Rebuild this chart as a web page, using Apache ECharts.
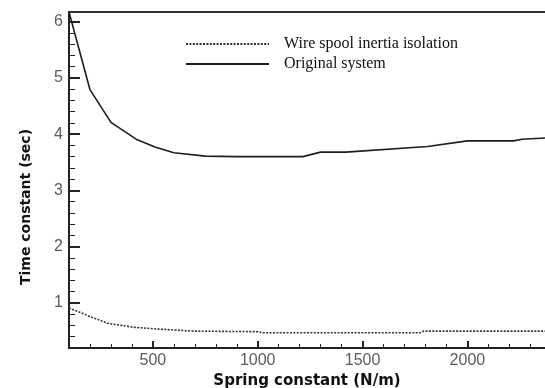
<!DOCTYPE html>
<html>
<head>
<meta charset="utf-8">
<script src="https://cdn.jsdelivr.net/npm/echarts@6/dist/echarts.min.js"></script>
<style>
  html, body { margin: 0; padding: 0; background: #fff; }
  #chart { width: 545px; height: 388px; }
</style>
</head>
<body>
<div id="chart"></div>
<script>
// Data
const origX = [100, 200, 300, 420, 510, 600, 750, 900, 1215, 1300, 1420, 1810, 2000, 2220, 2260, 2370];
const origY = [6.17, 4.79, 4.21, 3.91, 3.77, 3.67, 3.61, 3.60, 3.60, 3.68, 3.68, 3.78, 3.88, 3.88, 3.91, 3.93];
const isoX = [100, 207, 283, 404, 510, 693, 1000, 1025, 1775, 1790, 2370];
const isoY = [0.91, 0.75, 0.64, 0.57, 0.54, 0.50, 0.49, 0.47, 0.47, 0.50, 0.50];

// Tick labels
const xMajor = [500, 1000, 1500, 2000];
const xMinor = [200, 300, 400, 600, 700, 800, 900, 1100, 1200, 1300, 1400, 1600, 1700, 1800, 1900, 2100, 2200, 2300];
const yMajor = [1, 2, 3, 4, 5, 6];
const yMinor = [0.4, 0.6, 0.8, 1.2, 1.4, 1.6, 1.8, 2.2, 2.4, 2.6, 2.8, 3.2, 3.4, 3.6, 3.8,
  4.2, 4.4, 4.6, 4.8, 5.2, 5.4, 5.6, 5.8];

const seriesNames = ['Wire spool inertia isolation', 'Original system'];

const xMin = 100, xMax = 2370;
const yMin = 0.2, yMax = 6.17;

const axisColor = '#222';
const labelColor = '#5c5c5c';
const lineColor = '#1e1e1e';

const chart = echarts.init(document.getElementById('chart'), null, {renderer: 'canvas'});

const option = {
  animation: false,
  backgroundColor: '#fff',
  grid: {
    left: 69,
    right: 0,
    top: 12,
    bottom: 40,
    outerBoundsMode: 'none'
  },
  legend: {
    show: true,
    orient: 'vertical',
    left: 180,
    top: 31,
    itemWidth: 83,
    itemHeight: 14,
    itemGap: 4,
    data: seriesNames,
    itemStyle: {opacity: 0},
    textStyle: {
      fontFamily: 'Liberation Serif',
      fontSize: 16,
      color: '#111',
      padding: [0, 0, 0, 10]
    }
  },
  xAxis: [
    {
      type: 'value',
      min: xMin,
      max: xMax,
      name: 'Spring constant (N/m)',
      nameLocation: 'middle',
      nameGap: 17,
      nameTextStyle: {
        fontFamily: 'DejaVu Sans',
        fontWeight: 'bold',
        fontSize: 15,
        color: '#111'
      },
      axisLine: {show: true, lineStyle: {color: axisColor, width: 2}},
      axisTick: {show: true, inside: true, length: 7, customValues: xMajor, lineStyle: {color: axisColor, width: 2}},
      axisLabel: {
        customValues: xMajor,
        formatter: v => String(v),
        margin: 5,
        fontFamily: 'Liberation Sans',
        fontSize: 16,
        color: labelColor
      },
      splitLine: {show: false}
    },
    {
      type: 'value',
      position: 'bottom',
      min: xMin,
      max: xMax,
      axisLine: {show: false},
      axisTick: {show: true, inside: true, length: 4, customValues: xMinor, lineStyle: {color: axisColor, width: 1}},
      axisLabel: {show: false},
      splitLine: {show: false}
    },
    {
      type: 'value',
      position: 'top',
      min: xMin,
      max: xMax,
      axisLine: {show: true, lineStyle: {color: '#333', width: 2}},
      axisTick: {show: false},
      axisLabel: {show: false},
      splitLine: {show: false}
    }
  ],
  yAxis: [
    {
      type: 'value',
      min: yMin,
      max: yMax,
      name: 'Time constant (sec)',
      nameLocation: 'middle',
      nameGap: 36,
      nameTextStyle: {
        fontFamily: 'DejaVu Sans',
        fontWeight: 'bold',
        fontSize: 14,
        color: '#111',
        padding: [0, 54, 0, 0]
      },
      axisLine: {show: true, lineStyle: {color: axisColor, width: 2}},
      axisTick: {show: true, inside: true, length: 11, customValues: yMajor, lineStyle: {color: axisColor, width: 2}},
      axisLabel: {
        customValues: yMajor,
        formatter: v => String(v),
        margin: 6,
        fontFamily: 'Liberation Sans',
        fontSize: 16,
        color: labelColor
      },
      splitLine: {show: false}
    },
    {
      type: 'value',
      position: 'left',
      min: yMin,
      max: yMax,
      axisLine: {show: false},
      axisTick: {show: true, inside: true, length: 6, customValues: yMinor, lineStyle: {color: axisColor, width: 1}},
      axisLabel: {show: false},
      splitLine: {show: false}
    }
  ],
  series: [
    {
      name: seriesNames[0],
      type: 'line',
      xAxisIndex: 0,
      yAxisIndex: 0,
      symbol: 'none',
      clip: false,
      data: isoX.map((x, i) => [x, isoY[i]]),
      itemStyle: {color: '#333'},
      lineStyle: {color: '#333', width: 1.6, type: [2, 1.4]}
    },
    {
      name: seriesNames[1],
      type: 'line',
      xAxisIndex: 0,
      yAxisIndex: 0,
      symbol: 'none',
      clip: false,
      data: origX.map((x, i) => [x, origY[i]]),
      itemStyle: {color: lineColor},
      lineStyle: {color: lineColor, width: 1.6}
    }
  ]
};

chart.setOption(option);
</script>
</body>
</html>
